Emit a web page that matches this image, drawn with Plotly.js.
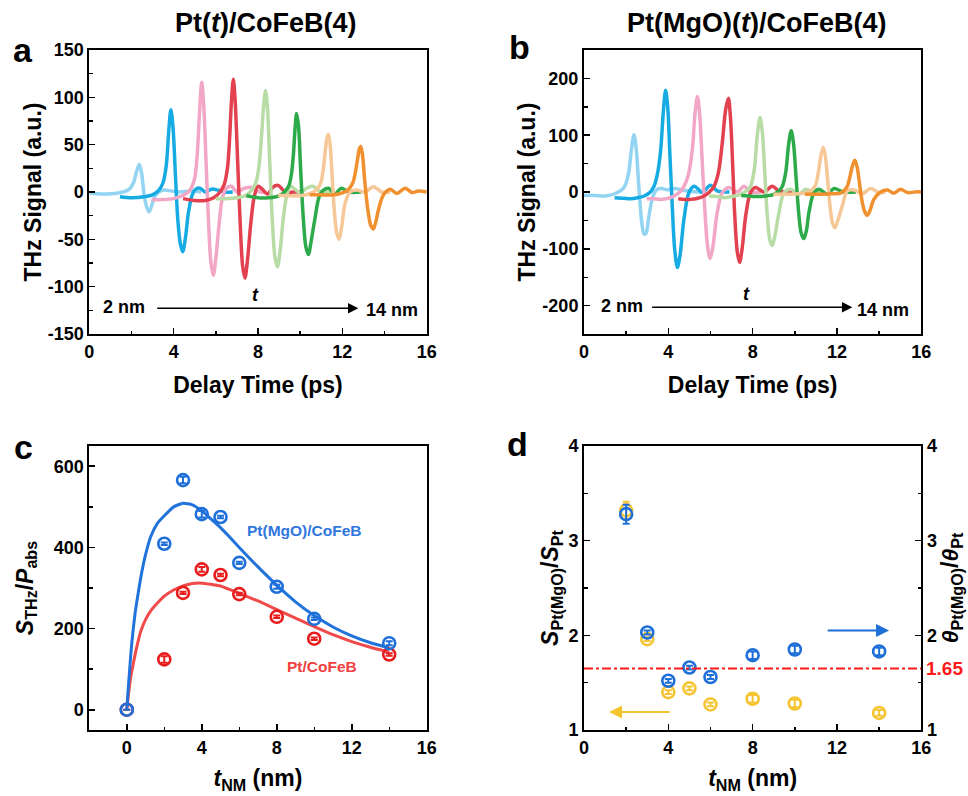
<!DOCTYPE html>
<html><head><meta charset="utf-8">
<script src="https://cdn.plot.ly/plotly-3.0.1.min.js"></script>
<style>html,body{margin:0;padding:0;background:#fff}#chart{width:968px;height:796px}</style>
</head><body><div id="chart"></div>
<script>
// ---------- Panel a: Pt(t)/CoFeB(4) waveforms (delay time ps, signal a.u.) ----------
const thickness = ['2 nm','3 nm','4 nm','5 nm','6 nm','8 nm','10 nm','14 nm'];
const tA_lb = [0,0.6,1.2,1.6,1.9,2.1,2.25,2.37,2.48,2.6,2.72,2.83,2.95,3.1,3.3,3.55,3.9,4.3,4.8,5.3];
const yA_lb = [-1,-2,-1.5,0,3,10,22,29,20,-3,-16,-21,-15,-5,0,2,1,0,1,0];
const tA_cy = [1.45,2.0,2.6,3.0,3.3,3.5,3.65,3.77,3.87,3.97,4.08,4.2,4.32,4.43,4.55,4.7,4.88,5.05,5.25,5.5,5.8,6.1,6.4,6.8];
const yA_cy = [-5,-6,-5,-3,2,10,28,65,87,68,20,-30,-55,-63,-50,-22,-3,3,4,0,3,2,0,0];
const tA_pk = [2.95,3.5,4.0,4.5,4.8,5.0,5.12,5.23,5.33,5.43,5.54,5.66,5.77,5.88,6.0,6.15,6.32,6.5,6.75,7.0,7.35,7.7,8.1,8.4];
const yA_pk = [-8,-8,-7,-3,3,15,40,85,116,90,30,-35,-75,-88,-70,-35,-5,4,6,0,4,5,0,0];
const tA_rd = [4.45,5.0,5.5,5.9,6.2,6.4,6.55,6.65,6.74,6.83,6.92,7.03,7.15,7.27,7.38,7.5,7.65,7.82,8.0,8.2,8.45,8.7,8.95,9.3,9.7,10.0];
const yA_rd = [-7,-9,-9,-6,0,8,25,55,95,119,95,35,-30,-78,-91,-72,-35,-5,6,3,-2,5,7,0,0,0];
const tA_lg = [6.0,6.5,7.0,7.4,7.7,7.9,8.05,8.17,8.27,8.36,8.45,8.56,8.68,8.8,8.92,9.05,9.2,9.38,9.55,9.75,10.0,10.3,10.6,11.0,11.5];
const yA_lg = [-7,-7,-6,-4,2,10,28,60,92,107,88,30,-30,-68,-79,-62,-28,-2,6,3,-1,4,6,0,0];
const tA_gr = [7.45,8.0,8.5,9.0,9.25,9.45,9.58,9.68,9.76,9.83,9.92,10.02,10.14,10.27,10.39,10.52,10.7,10.9,11.1,11.35,11.65,11.95,12.3,12.9];
const yA_gr = [-4,-6,-6,-4,0,6,18,40,68,83,70,25,-25,-58,-66,-52,-28,-5,2,4,-2,4,0,0];
const tA_lo = [8.95,9.5,10.0,10.5,10.8,10.98,11.1,11.2,11.27,11.34,11.42,11.52,11.62,11.73,11.84,11.96,12.13,12.36,12.68,13.08,13.47,13.87,14.27];
const yA_lo = [-3.5,-4,-4,-1.5,3,10,25,45,57,61,50,15,-20,-43,-50,-38,-12,0,2,0,5.5,0,0];
const tA_or = [10.45,11.0,11.6,12.0,12.3,12.5,12.63,12.73,12.8,12.87,12.95,13.05,13.15,13.25,13.36,13.47,13.58,13.71,13.95,14.27,14.58,14.98,15.3,15.6,16.0];
const yA_or = [-3,-3,-3,-1,3,10,22,36,45,48,40,15,-8,-25,-36,-39,-32,-19,-3,3,-1.5,4,-0.5,1,0];
const ticksA = [-150,-100,-50,0,50,100,150];
const ticksB = [-200,-100,0,100,200];

// ---------- Panel b: Pt(MgO)(t)/CoFeB(4) waveforms ----------
const tB_lb = [0,0.5,0.95,1.3,1.58,1.9,2.1,2.25,2.37,2.48,2.6,2.73,2.85,2.95,3.05,3.16,3.3,3.48,3.7,3.95,4.3,4.7,5.1,5.5];
const yB_lb = [-6,-6,-7,-5,-1,8,30,75,101,75,10,-50,-74,-72,-50,-25,-5,5,6,4,6,3,1,0];
const tB_cy = [1.45,1.9,2.21,2.55,2.85,3.15,3.32,3.5,3.64,3.76,3.87,3.97,4.07,4.18,4.3,4.43,4.56,4.74,4.98,5.22,5.42,5.61,6.0,6.32,6.64,6.9];
const yB_cy = [-10,-11,-12,-10,-7,0,10,35,75,140,179,150,70,-20,-100,-133,-110,-48,-1,10,5,-1,12,2,0,0];
const tB_pk = [2.97,3.3,3.64,4.0,4.27,4.55,4.74,4.95,5.14,5.27,5.38,5.48,5.6,5.73,5.86,5.98,6.1,6.32,6.56,6.88,7.27,7.59,7.9,8.4];
const yB_pk = [-12,-12,-13,-11,-7,0,10,30,75,140,168,140,60,-30,-95,-117,-100,-36,-1,8,0,10,0,0];
const tB_rd = [4.47,4.8,5.06,5.4,5.69,5.95,6.17,6.38,6.56,6.72,6.85,6.95,7.05,7.15,7.27,7.38,7.5,7.67,7.9,8.14,8.54,8.93,9.25,9.6,9.9];
const yB_rd = [-12,-13,-13,-11,-7,0,10,35,87,145,165,130,50,-40,-105,-124,-100,-42,-1,8,0,10,2,0,0];
const tB_lg = [5.93,6.3,6.64,7.0,7.43,7.7,7.9,8.08,8.22,8.35,8.46,8.58,8.7,8.82,8.93,9.05,9.25,9.49,9.8,10.2,10.51,10.9,11.4];
const yB_lg = [-7,-8,-10,-8,-4,2,10,40,100,131,105,30,-45,-85,-94,-78,-36,-1,5,-4,5,0,0];
const tB_gr = [7.46,7.8,8.22,8.6,9.0,9.25,9.41,9.57,9.71,9.83,9.94,10.06,10.18,10.3,10.43,10.55,10.67,10.91,11.15,11.54,11.86,12.3,12.9];
const yB_gr = [-6,-7,-8,-7,-4,2,10,35,85,108,85,25,-35,-72,-82,-68,-36,-1,5,-4,6,0,0];
const tB_lo = [8.98,9.4,9.8,10.2,10.59,10.85,10.99,11.12,11.24,11.35,11.45,11.56,11.67,11.79,11.9,12.02,12.25,12.49,12.81,13.2,13.6,14.0,14.3];
const yB_lo = [-4,-4,-4,-3,-1,5,13,35,65,79,62,20,-25,-55,-63,-52,-25,2,3.5,-3,6,-1,0];
const tB_or = [10.48,11.0,11.38,11.8,12.17,12.35,12.49,12.62,12.75,12.85,12.95,13.07,13.2,13.32,13.44,13.56,13.75,14.07,14.39,14.7,15.02,15.34,15.8,16.0];
const yB_or = [-4,-4,-4,-3,-2,3,10,28,48,56,45,15,-18,-35,-41,-33,-13,0,3.5,-2,4.7,-1,0.5,0];

// ---------- Panel c: S_THz/P_abs vs t_NM ----------
const tNM_c = [0,2,3,4,5,6,8,10,14];
const sMgO = [0,409,566,482,475,362,303,224,164];
const sMgOErr = [0,3,8,8,3,3,5,3,5];
const tNM_cRed = [0,2,3,4,5,6,8,10,14];
const sPt = [0,124,288,346,332,285,229,175,136];
const sPtErr = [0,8,3,6,3,3,3,3,3];
const fitMgO_t = [0,0.07,0.14,0.22,0.32,0.45,0.58,0.76,1.0,1.28,1.64,2.0,2.5,3.0,3.5,4.0,4.5,5.0,5.5,6.0,7.0,8.0,9.0,10.0,11.0,12.0,13.0,14.0];
const fitMgO_y = [0,48,90,140,189,240,279,329,382,427,460,478,500,509,505,490,470,449,425,400,352,307,266,232,204,182,165,152];
const fitPt_t = [0,0.07,0.14,0.22,0.32,0.45,0.58,0.76,1.0,1.25,1.5,2.0,2.5,3.0,3.5,4.0,4.5,5.0,6.0,7.0,8.0,9.0,10.0,11.0,12.0,13.0,14.0];
const fitPt_y = [0,30,57,83,107,137,164,195,222,242,256,280,295,305,311,312,309,305,287,268,247,226,205,185,168,154,142];

// ---------- Panel d: ratios ----------
const tNM_d = [2,3,4,5,6,8,10,14];
const sRatio = [3.32,1.96,1.40,1.44,1.27,1.33,1.28,1.18];
const sRatioErr = [0.09,0.02,0.02,0.02,0.02,0.04,0.04,0.03];
const thetaRatio = [3.28,2.03,1.52,1.66,1.56,1.79,1.85,1.83];
const thetaRatioErr = [0.1,0.02,0.02,0.02,0.02,0.04,0.04,0.04];
const refRatio = 1.65;

// ---------- styles ----------
const waveColors = ['#93d4f3','#16abe3','#f2a7c6','#e3414f','#b8dca5','#2daa4a','#f6c797','#f1902f'];
const FONT = 'Liberation Sans, Arial, sans-serif';
const BLUE = '#1f6fd9', RED = '#e81c1c', GOLD = '#f5c531';

const waveA = [[tA_lb,yA_lb],[tA_cy,yA_cy],[tA_pk,yA_pk],[tA_rd,yA_rd],[tA_lg,yA_lg],[tA_gr,yA_gr],[tA_lo,yA_lo],[tA_or,yA_or]];
const waveB = [[tB_lb,yB_lb],[tB_cy,yB_cy],[tB_pk,yB_pk],[tB_rd,yB_rd],[tB_lg,yB_lg],[tB_gr,yB_gr],[tB_lo,yB_lo],[tB_or,yB_or]];

const traces = [];
waveA.forEach((w,i)=>traces.push({x:w[0],y:w[1],xaxis:'x',yaxis:'y',mode:'lines',name:thickness[i],
  line:{color:waveColors[i],width:3.5,shape:'spline',smoothing:0.9},showlegend:false,hoverinfo:'skip'}));
waveB.forEach((w,i)=>traces.push({x:w[0],y:w[1],xaxis:'x2',yaxis:'y2',mode:'lines',name:thickness[i],
  line:{color:waveColors[i],width:3.5,shape:'spline',smoothing:0.9},showlegend:false,hoverinfo:'skip'}));

traces.push({x:fitPt_t,y:fitPt_y,xaxis:'x3',yaxis:'y3',mode:'lines',line:{color:'#f04a4a',width:3,shape:'spline',smoothing:0.5},showlegend:false});
traces.push({x:fitMgO_t,y:fitMgO_y,xaxis:'x3',yaxis:'y3',mode:'lines',line:{color:'#2173dc',width:3,shape:'spline',smoothing:0.5},showlegend:false});
const mk = c=>({symbol:'circle-open',size:12,color:c,line:{width:2.6,color:c}});
const eb = (arr,c)=>({type:'data',array:arr,visible:true,color:c,thickness:2,width:3.5});
traces.push({x:tNM_cRed,y:sPt,xaxis:'x3',yaxis:'y3',mode:'markers',showlegend:false,marker:mk(RED),error_y:eb(sPtErr,RED)});
traces.push({x:tNM_c,y:sMgO,xaxis:'x3',yaxis:'y3',mode:'markers',showlegend:false,marker:mk(BLUE),error_y:eb(sMgOErr,BLUE)});
traces.push({x:tNM_d,y:sRatio,xaxis:'x4',yaxis:'y4',mode:'markers',showlegend:false,marker:mk(GOLD),error_y:eb(sRatioErr,GOLD)});
traces.push({x:tNM_d,y:thetaRatio,xaxis:'x4',yaxis:'y5',mode:'markers',showlegend:false,marker:mk(BLUE),error_y:eb(thetaRatioErr,BLUE)});

const W=968,H=796;
const px = v=>v/W, py = v=>1-v/H;
const tickFont = {family:FONT,size:18,color:'#000',weight:'bold'};
const titleFont = {family:FONT,size:23,color:'#000',weight:'bold'};
const minor = o=>Object.assign({ticks:'inside',ticklen:3.5,tickwidth:1.4,tickcolor:'#000',showgrid:false},o);
function ax(extra){
  return Object.assign({showgrid:false,zeroline:false,showline:true,linecolor:'#000',linewidth:2,mirror:true,
    ticks:'inside',ticklen:6,tickwidth:1.6,tickcolor:'#000',tickfont:tickFont},extra);
}
const dAx = [px(89.3),px(426.7)], dBx=[px(584),px(921.3)];
const dTop=[py(334),py(50)], dBot=[py(730),py(446)];
const ann = (x,y,text,size,color)=>({xref:'paper',yref:'paper',x:px(x),y:py(y),xanchor:'center',yanchor:'middle',text,showarrow:false,font:{family:FONT,size,weight:'bold',color:color||'#000'}});
const dat = (xr,yr,x,y,text,size,color)=>({xref:xr,yref:yr,x,y,xanchor:'center',yanchor:'middle',text,showarrow:false,font:{family:FONT,size,weight:'bold',color:color||'#000'}});
const arrow = (xr,yr,x,y,axv,ayv,color,w)=>({xref:xr,yref:yr,axref:xr,ayref:yr,x,y,ax:axv,ay:ayv,text:'',showarrow:true,arrowhead:2,arrowsize:1.3,arrowwidth:w,arrowcolor:color});

const layout = {
  width:W,height:H,margin:{l:0,r:0,t:0,b:0},paper_bgcolor:'#fff',plot_bgcolor:'#fff',
  font:{family:FONT,weight:'bold',color:'#000'},showlegend:false,
  xaxis: ax({domain:dAx,anchor:'y',range:[0,16],dtick:4,minor:minor({dtick:2}),
    title:{text:'Delay Time (ps)',font:titleFont,standoff:16}}),
  yaxis: ax({domain:dTop,anchor:'x',range:[-150,150],tickvals:ticksA,ticktext:ticksA.map(String),minor:minor({dtick:25}),
    title:{text:'THz Signal (a.u.)',font:titleFont,standoff:0}}),
  xaxis2: ax({domain:dBx,anchor:'y2',range:[0,16],dtick:4,minor:minor({dtick:2}),
    title:{text:'Delay Time (ps)',font:titleFont,standoff:16}}),
  yaxis2: ax({domain:dTop,anchor:'x2',range:[-250,250],tickvals:ticksB,ticktext:ticksB.map(String),minor:minor({dtick:50}),
    title:{text:'THz Signal (a.u.)',font:titleFont,standoff:0}}),
  xaxis3: ax({domain:dAx,anchor:'y3',range:[-2,16],tickvals:[0,4,8,12,16],minor:minor({tickvals:[2,6,10,14]}),
    title:{text:'<i>t</i><sub>NM</sub> (nm)',font:titleFont,standoff:13}}),
  yaxis3: ax({domain:dBot,anchor:'x3',range:[-50,650],tickvals:[0,200,400,600],minor:minor({tickvals:[100,300,500]}),
    title:{text:'<i>S</i><sub>THz</sub>/<i>P</i><sub>abs</sub>',font:titleFont,standoff:14}}),
  xaxis4: ax({domain:dBx,anchor:'y4',range:[0,16],dtick:4,minor:minor({dtick:2}),
    title:{text:'<i>t</i><sub>NM</sub> (nm)',font:titleFont,standoff:13}}),
  yaxis4: ax({domain:dBot,anchor:'x4',range:[1,4],dtick:1,mirror:false,minor:minor({dtick:0.5}),
    title:{text:'<i>S</i><sub>Pt(MgO)</sub>/<i>S</i><sub>Pt</sub>',font:titleFont,standoff:3}}),
  yaxis5: ax({domain:dBot,anchor:'x4',overlaying:'y4',side:'right',range:[1,4],dtick:1,mirror:false,minor:minor({dtick:0.5}),
    title:{text:'<i>θ</i><sub>Pt(MgO)</sub>/<i>θ</i><sub>Pt</sub>',font:titleFont,standoff:6}}),
  shapes:[
    {type:'line',xref:'x4 domain',yref:'y4',x0:0,x1:1,y0:refRatio,y1:refRatio,line:{color:'#ff1a1a',width:2,dash:'dashdot'}}
  ],
  annotations:[
    ann(23,50,'a',34), ann(519,47,'b',34), ann(23,447,'c',34), ann(517,444,'d',34),
    ann(266,23,'Pt(<i>t</i>)/CoFeB(4)',27), ann(756,23,'Pt(MgO)(<i>t</i>)/CoFeB(4)',27),
    arrow('x','y',12.76,-122.8,3.15,-122.8,'#000',1.6),
    dat('x','y',1.65,-121,'2 nm',18), dat('x','y',14.35,-124.6,'14 nm',18), dat('x','y',7.86,-108.8,'<i>t</i>',18),
    arrow('x2','y2',12.73,-203,3.16,-203,'#000',1.6),
    dat('x2','y2',1.78,-201,'2 nm',18), dat('x2','y2',14.18,-208,'14 nm',18), dat('x2','y2',7.73,-180,'<i>t</i>',18),
    dat('x3','y3',9.48,441,'Pt(MgO)/CoFeB',15.5,'#2f76dd'),
    dat('x3','y3',10.44,107,'Pt/CoFeB',15.5,'#f04040'),
    arrow('x4','y4',14.47,2.05,11.49,2.05,BLUE,2),
    arrow('x4','y4',1.19,1.19,4.14,1.19,GOLD,2),
    {xref:'paper',yref:'y4',x:px(944),y:refRatio,xanchor:'center',yanchor:'middle',text:'1.65',showarrow:false,font:{family:FONT,size:19,weight:'bold',color:'#ff1a1a'}}
  ]
};
Plotly.newPlot('chart',traces,layout,{displayModeBar:false,staticPlot:true});
</script></body></html>
